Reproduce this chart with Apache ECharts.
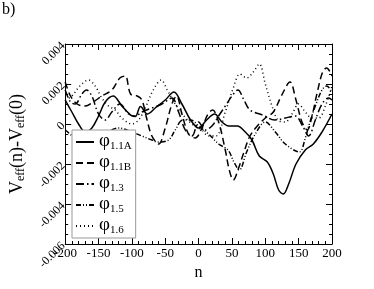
<!DOCTYPE html>
<html><head><meta charset="utf-8">
<script src="https://cdn.jsdelivr.net/npm/echarts@6/dist/echarts.min.js"></script>
<style>html,body{margin:0;padding:0;background:#fff}#c{width:374px;height:289px}</style>
</head><body><div id="c"></div>
<script>
var xTicks = [-200, -150, -100, -50, 0, 50, 100, 150, 200];
var yTicks = [-0.006, -0.004, -0.002, 0, 0.002, 0.004];
var seriesNames = ['1.1A', '1.1B', '1.3', '1.5', '1.6'];

var phi11A = [[-200,0.0012],[-190,0.0006],[-180,0.0000],[-170,-0.0004],[-160,-0.0002],[-150,0.0004],[-140,0.0011],[-128,0.0014],[-115,0.0009],[-100,0.0004],[-95,0.00037],[-87,0.00087],[-77,0.0005],[-65,0.0008],[-50,0.0012],[-37,0.0016],[-25,0.0010],[-12,0.0002],[0,-0.0002],[12,0.0002],[24,0.0005],[35,0.0001],[45,-0.0001],[58,-0.0001],[70,-0.0004],[80,-0.0008],[91,-0.0016],[103,-0.0019],[112,-0.0025],[120,-0.0033],[127,-0.0035],[135,-0.0030],[146,-0.0020],[160,-0.0013],[172,-0.0010],[185,-0.0004],[200,0.0005]];
var phi11B = [[-200,0.0021],[-192,0.0014],[-182,0.0010],[-170,0.0009],[-158,0.0011],[-145,0.0014],[-130,0.0017],[-118,0.0023],[-110,0.0024],[-102,0.0015],[-92,0.0014],[-85,0.0012],[-78,0.0003],[-70,-0.0006],[-60,-0.0010],[-50,-0.0002],[-40,0.0010],[-33,0.0014],[-25,0.0005],[-15,-0.0005],[-5,-0.0007],[5,-0.0002],[14,0.0005],[21,0.0007],[30,0.0001],[40,-0.0013],[46,-0.0023],[52,-0.0028],[60,-0.0022],[68,-0.0014],[77,-0.0006],[88,-0.0001],[100,0.0003],[112,0.0006],[124,0.0014],[137,0.0021],[146,0.0012],[155,0.0001],[163,-0.0003],[170,0.0004],[178,0.0016],[186,0.0026],[192,0.0028],[200,0.0024]];
var phi13 = [[-200,0.0017],[-192,0.0011],[-185,0.0010],[-175,0.0015],[-168,0.0017],[-160,0.0014],[-150,0.0005],[-140,0.0002],[-130,0.0006],[-118,0.0010],[-105,0.0005],[-95,0.0004],[-85,0.0006],[-70,0.0008],[-55,0.0010],[-40,0.0013],[-30,0.0006],[-20,-0.0003],[-10,-0.0006],[0,0.0001],[10,-0.0003],[20,-0.0001],[30,0.0004],[40,0.0009],[50,0.0014],[59,0.0017],[68,0.0012],[77,0.0007],[96,0.00045],[114,0.0002],[130,0.0003],[145,0.0004],[156,-0.0001],[165,-0.0006],[175,0.0002],[185,0.0010],[195,0.0013],[200,0.0012]];
var phi15 = [[-200,-0.0003],[-190,-0.0006],[-180,-0.0011],[-167,-0.0014],[-155,-0.0010],[-140,-0.0005],[-120,-0.0002],[-100,-0.0004],[-85,-0.0006],[-70,-0.0008],[-60,-0.0009],[-45,-0.0008],[-35,-0.0003],[-24,0.0002],[-12,0.0002],[0,-0.0001],[15,-0.0005],[30,-0.0010],[44,-0.0013],[53,-0.0019],[61,-0.0023],[72,-0.0014],[85,-0.0005],[100,0.0001],[115,-0.0004],[130,-0.0010],[151,-0.0014],[160,-0.0007],[166,0.0000],[175,0.0009],[185,0.0017],[192,0.0019],[200,0.0016]];
var phi16 = [[-200,0.0012],[-190,0.0014],[-178,0.0019],[-165,0.0022],[-155,0.0019],[-145,0.0013],[-135,0.0009],[-125,0.0007],[-115,0.0003],[-100,0.0000],[-90,0.0002],[-80,0.0008],[-68,0.0017],[-56,0.0022],[-47,0.0017],[-35,0.0010],[-22,0.0004],[-10,0.0000],[5,-0.0003],[15,-0.0006],[26,-0.0006],[40,0.0006],[52,0.0018],[62,0.0025],[72,0.0023],[82,0.0026],[91,0.0030],[100,0.0020],[110,0.0009],[119,0.0002],[130,0.0001],[140,0.0005],[150,0.0010],[160,0.0006],[170,0.0003],[180,0.0003],[190,0.0009],[200,0.0019]];

var dataSets = [phi11A, phi11B, phi13, phi15, phi16];
var dashes = ['solid', [7,4], [8,3,1.5,3], [5,2,1,2,1,2], [1,3]];
var FONT = 'Liberation Serif';

var chart = echarts.init(document.getElementById('c'));
var series = dataSets.map(function (d, i) {
  return {
    name: seriesNames[i], type: 'line', data: d, smooth: 0.35,
    symbol: 'none', showSymbol: false, xAxisIndex: 0, yAxisIndex: 0,
    lineStyle: { color: '#000', width: 1.5, type: dashes[i] },
    itemStyle: { color: '#000' }
  };
});
var tickStyle = { show: true, inside: true, length: 6, lineStyle: { color: '#000', width: 1 } };
var minorStyle = { show: true, length: 3, lineStyle: { color: '#000', width: 1 } };
chart.setOption({
  animation: false,
  grid: { left: 43, right: 42, top: 44, bottom: 45, show: false },
  graphic: [
    { type: 'text', left: 2, top: 2, style: { text: 'b)', font: '16px "Liberation Serif"', fill: '#000' } }
  ],
  legend: {
    left: 72, top: 130, orient: 'vertical',
    padding: [2, 4, 2, 3], itemGap: 1, itemWidth: 18, itemHeight: 12,
    borderColor: '#999', borderWidth: 1, backgroundColor: '#fff',
    itemStyle: { color: 'transparent', borderWidth: 0, opacity: 0 },
    data: seriesNames,
    formatter: function (n) { return '{p|\u03c6}{s|' + n + '}'; },
    textStyle: {
      fontFamily: FONT, color: '#000', lineHeight: 20,
      rich: { p: { fontSize: 19, fontFamily: FONT, lineHeight: 20, verticalAlign: 'top' }, s: { fontSize: 11, fontFamily: FONT, lineHeight: 20, verticalAlign: 'bottom' } }
    }
  },
  xAxis: [{
    type: 'value', min: xTicks[0], max: xTicks[xTicks.length - 1], interval: 50,
    name: 'n', nameLocation: 'middle', nameGap: 18,
    nameTextStyle: { fontFamily: FONT, fontSize: 16, color: '#000' },
    axisLine: { show: true, onZero: false, lineStyle: { color: '#000' } },
    axisTick: tickStyle, minorTick: Object.assign({ splitNumber: 5 }, minorStyle),
    splitLine: { show: false },
    axisLabel: { fontFamily: FONT, fontSize: 13, color: '#000', margin: 3 }
  }, {
    type: 'value', position: 'top', min: xTicks[0], max: xTicks[xTicks.length - 1], interval: 50,
    axisLine: { show: true, onZero: false, lineStyle: { color: '#000' } },
    axisTick: tickStyle, minorTick: Object.assign({ splitNumber: 5 }, minorStyle),
    splitLine: { show: false }, axisLabel: { show: false }
  }],
  yAxis: [{
    type: 'value', min: yTicks[0], max: yTicks[yTicks.length - 1], interval: 0.002,
    name: '{m|V}{s|eff}{m|(n)-V}{s|eff}{m|(0)}', nameLocation: 'middle', nameGap: 26, nameRotate: 90,
    nameTextStyle: { fontFamily: FONT, color: '#000', rich: { m: { fontSize: 18, fontFamily: FONT }, s: { fontSize: 12, fontFamily: FONT, verticalAlign: 'bottom', padding: [8,0,0,0] } } },
    axisLine: { show: true, onZero: false, lineStyle: { color: '#000' } },
    axisTick: tickStyle, minorTick: Object.assign({ splitNumber: 4 }, minorStyle),
    splitLine: { show: false },
    axisLabel: { fontFamily: FONT, fontSize: 12, color: '#000', rotate: 45, margin: 2 }
  }, {
    type: 'value', position: 'right', min: yTicks[0], max: yTicks[yTicks.length - 1], interval: 0.002,
    axisLine: { show: true, onZero: false, lineStyle: { color: '#000' } },
    axisTick: tickStyle, minorTick: Object.assign({ splitNumber: 4 }, minorStyle),
    splitLine: { show: false }, axisLabel: { show: false }
  }],
  series: series
});
</script></body></html>
